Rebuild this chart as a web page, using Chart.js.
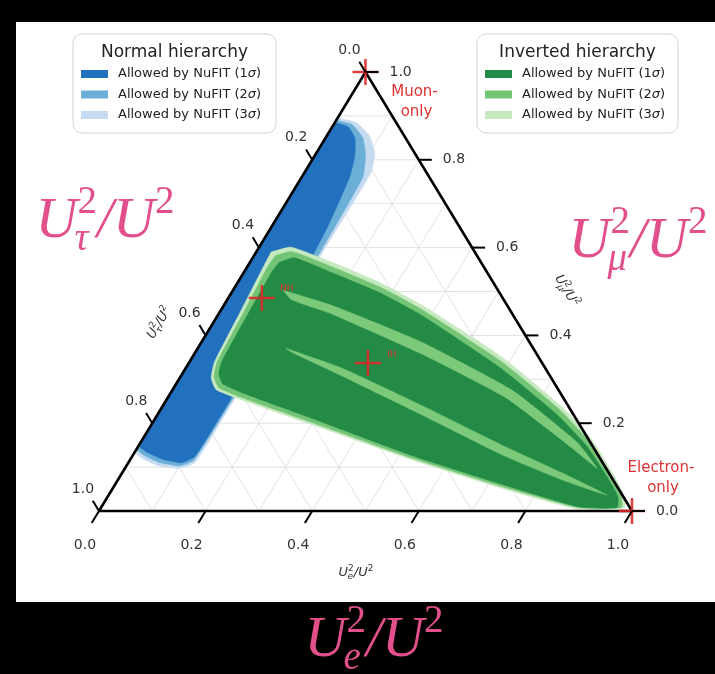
<!DOCTYPE html>
<html>
<head>
<meta charset="utf-8">
<script src="https://cdn.jsdelivr.net/npm/chart.js@4.4.1/dist/chart.umd.min.js"></script>
<style>
  html, body { margin: 0; padding: 0; background: #000; }
</style>
</head>
<body>
<canvas id="ternChart" width="715" height="674"></canvas>
<script>
// all points are [U_e^2/U^2, U_mu^2/U^2]; U_tau^2/U^2 = 1 - e - mu
const nhSigma3 = [[0,0.895],[0.04,0.885],[0.08,0.855],[0.11,0.815],[0.125,0.77],[0.125,0.6],[0.127,0.4],[0.127,0.2],[0.125,0.11],[0.1,0.097],[0.06,0.103],[0.025,0.118],[0,0.135]];
const nhSigma2 = [[0,0.89],[0.035,0.88],[0.07,0.85],[0.095,0.81],[0.115,0.76],[0.12,0.6],[0.123,0.4],[0.123,0.2],[0.12,0.115],[0.1,0.103],[0.06,0.11],[0.025,0.125],[0,0.142]];
const nhSigma1 = [[0,0.885],[0.03,0.875],[0.055,0.85],[0.075,0.81],[0.09,0.76],[0.105,0.65],[0.118,0.45],[0.12,0.25],[0.118,0.125],[0.1,0.11],[0.06,0.118],[0.025,0.133],[0,0.15]];

const ihSigma3 = [[0.028,0.590],[0.060,0.601],[0.153,0.567],[0.270,0.519],[0.371,0.469],[0.580,0.351],[0.750,0.237],[0.844,0.162],[0.925,0.082],[0.967,0.036],[0.982,0.007],[0.894,0.005],[0.729,0.052],[0.530,0.116],[0.323,0.189],[0.141,0.253],[0.082,0.276],[0.059,0.303],[0.047,0.339],[0.038,0.458],[0.030,0.560]];
const ihSigma2 = [[0.040,0.582],[0.066,0.591],[0.157,0.557],[0.275,0.509],[0.376,0.459],[0.582,0.342],[0.750,0.230],[0.842,0.157],[0.922,0.078],[0.962,0.035],[0.976,0.008],[0.895,0.008],[0.727,0.056],[0.528,0.120],[0.320,0.194],[0.140,0.258],[0.084,0.281],[0.063,0.306],[0.052,0.339],[0.045,0.455],[0.038,0.556]];
const ihSigma1 = [[0.055,0.566],[0.078,0.577],[0.165,0.543],[0.283,0.495],[0.384,0.445],[0.585,0.329],[0.749,0.220],[0.840,0.149],[0.918,0.074],[0.957,0.033],[0.968,0.008],[0.897,0.009],[0.725,0.061],[0.525,0.126],[0.316,0.203],[0.140,0.267],[0.087,0.290],[0.069,0.312],[0.060,0.342],[0.055,0.450],[0.052,0.545]];
// 2 sigma islands inside the 1 sigma region
const ihInnerUpper = [[0.094,0.503],[0.201,0.469],[0.412,0.385],[0.636,0.276],[0.818,0.157],[0.885,0.098],[0.815,0.144],[0.636,0.257],[0.426,0.358],[0.212,0.449],[0.121,0.481]];
const ihInnerLower = [[0.165,0.371],[0.292,0.326],[0.484,0.241],[0.681,0.150],[0.825,0.087],[0.935,0.036],[0.833,0.071],[0.692,0.128],[0.496,0.219],[0.301,0.308],[0.180,0.362]];

const markerNames = ["Muon-only", "Electron-only", "NH", "IH"];
const markerPoints = [[0,1],[1,0],[0.063,0.485],[0.336,0.337]];

const tickValues = [0.0, 0.2, 0.4, 0.6, 0.8, 1.0];
const gridValues = [0.1, 0.2, 0.3, 0.4, 0.5, 0.6, 0.7, 0.8, 0.9];

const nhLegendTitle = "Normal hierarchy";
const ihLegendTitle = "Inverted hierarchy";
const legendLevels = ["1", "2", "3"];
const blueShades = ["#2171bf", "#6baed6", "#c6dbef"];
const greenShades = ["#238b45", "#74c476", "#c7e9c0"];

function toXY(p) {
  return { x: p[0] + p[1] / 2, y: p[1] };
}
function polygon(points, color, order) {
  const data = points.map(toXY);
  data.push(toXY(points[0]));
  return {
    data: data, showLine: true, fill: 'shape', backgroundColor: color,
    borderColor: color, borderWidth: 0.5, pointRadius: 0, tension: 0.15, order: order
  };
}
function segment(a, b) {
  return {
    data: [toXY(a), toXY(b)], showLine: true, fill: false,
    borderColor: '#dadada', borderWidth: 0.8, pointRadius: 0, order: 100
  };
}

const datasets = [];
gridValues.forEach(function (g) {
  datasets.push(segment([0, g], [1 - g, g]));
  datasets.push(segment([g, 0], [g, 1 - g]));
  datasets.push(segment([1 - g, 0], [0, 1 - g]));
});
datasets.push(polygon(nhSigma3, blueShades[2], 90));
datasets.push(polygon(nhSigma2, blueShades[1], 89));
datasets.push(polygon(nhSigma1, blueShades[0], 88));
datasets.push(polygon(ihSigma3, greenShades[2], 80));
datasets.push(polygon(ihSigma2, greenShades[1], 79));
datasets.push(polygon(ihSigma1, greenShades[0], 78));
datasets.push(polygon(ihInnerUpper, '#7dc97a', 77));
datasets.push(polygon(ihInnerLower, '#7dc97a', 77));
datasets.push({
  data: [[0,0],[1,0],[0,1],[0,0]].map(toXY), showLine: true, fill: false,
  borderColor: '#000', borderWidth: 2.6, pointRadius: 0, order: 10
});
datasets.push({
  data: markerPoints.map(toXY), showLine: false, pointStyle: 'cross',
  pointRadius: 13, pointBorderWidth: 2.5, pointBorderColor: 'rgba(222,40,40,0.9)', order: 1
});

// pixel placement of the triangle in the page
const LEFT_PX = 99, SIDE_PX = 533, BASE_PX = 511, HEIGHT_PX = 439;

function drawUFrac(ctx, cx, by, sub, size, family, italic) {
  const it = italic ? 'italic ' : '';
  const sm = Math.round(size * 0.68);
  const big = it + size + 'px ' + family;
  const small = sm + 'px ' + family;
  const smallIt = it + sm + 'px ' + family;
  ctx.font = big;
  const wU = ctx.measureText('U').width;
  const wSl = ctx.measureText('/U').width;
  ctx.font = small;
  const w2 = ctx.measureText('2').width;
  ctx.font = smallIt;
  const wSub = ctx.measureText(sub).width;
  const mid = Math.max(w2, wSub);
  let x = cx - (wU + mid + wSl + w2) / 2;
  ctx.textAlign = 'left';
  ctx.textBaseline = 'alphabetic';
  ctx.font = big; ctx.fillText('U', x, by); x += wU;
  ctx.font = small; ctx.fillText('2', x, by - size * 0.42);
  ctx.font = smallIt; ctx.fillText(sub, x - size * 0.05, by + size * 0.22);
  x += mid;
  ctx.font = big; ctx.fillText('/U', x, by); x += wSl;
  ctx.font = small; ctx.fillText('2', x, by - size * 0.42);
}

function drawLegend(ctx, x0, y0, w, h, title, shades) {
  ctx.save();
  ctx.fillStyle = '#fff';
  ctx.strokeStyle = '#d4d4d4';
  ctx.lineWidth = 1;
  ctx.beginPath();
  ctx.roundRect(x0, y0, w, h, 9);
  ctx.fill(); ctx.stroke();
  ctx.fillStyle = '#222';
  ctx.font = '17px "DejaVu Sans"';
  ctx.textAlign = 'center';
  ctx.textBaseline = 'middle';
  ctx.fillText(title, x0 + w / 2, y0 + 19);
  legendLevels.forEach(function (lv, i) {
    const yy = y0 + 40 + i * 20.5;
    ctx.fillStyle = shades[i];
    ctx.fillRect(x0 + 8, yy - 4, 27, 8);
    ctx.fillStyle = '#222';
    ctx.textAlign = 'left';
    let tx = x0 + 45;
    ctx.font = '13px "DejaVu Sans"';
    const s1 = 'Allowed by NuFIT (' + lv;
    ctx.fillText(s1, tx, yy);
    tx += ctx.measureText(s1).width;
    ctx.font = 'italic 13px "DejaVu Sans"';
    ctx.fillText('σ', tx, yy);
    tx += ctx.measureText('σ').width;
    ctx.font = '13px "DejaVu Sans"';
    ctx.fillText(')', tx, yy);
  });
  ctx.restore();
}

const decor = {
  id: 'decor',
  beforeDraw(chart) {
    const ctx = chart.ctx;
    ctx.save();
    ctx.fillStyle = '#000';
    ctx.fillRect(0, 0, chart.width, chart.height);
    ctx.fillStyle = '#fff';
    ctx.fillRect(16, 22, chart.width - 16, 580);
    ctx.restore();
  },
  afterDatasetsDraw(chart) {
    const ctx = chart.ctx;
    const xs = chart.scales.x, ys = chart.scales.y;
    const pt = function (e, m) {
      return [xs.getPixelForValue(e + m / 2), ys.getPixelForValue(m)];
    };
    ctx.save();
    ctx.strokeStyle = '#000';
    ctx.lineWidth = 2;
    ctx.fillStyle = '#333';
    ctx.font = '14px "DejaVu Sans"';
    ctx.textBaseline = 'middle';
    tickValues.forEach(function (v) {
      const lab = v.toFixed(1);
      // bottom: U_e
      let p = pt(v, 0);
      ctx.beginPath(); ctx.moveTo(p[0], p[1]); ctx.lineTo(p[0] - 7.3, p[1] + 12); ctx.stroke();
      ctx.textAlign = 'center';
      ctx.fillText(lab, p[0] - 14, p[1] + 34);
      // left: U_tau
      p = pt(0, 1 - v);
      ctx.beginPath(); ctx.moveTo(p[0], p[1]); ctx.lineTo(p[0] - 6.2, p[1] - 10.3); ctx.stroke();
      ctx.fillText(lab, p[0] - 16, p[1] - 22);
      // right: U_mu
      p = pt(1 - v, v);
      ctx.beginPath(); ctx.moveTo(p[0], p[1]); ctx.lineTo(p[0] + 13, p[1]); ctx.stroke();
      ctx.textAlign = 'left';
      ctx.fillText(lab, p[0] + 24, p[1]);
    });

    // small axis titles
    ctx.fillStyle = '#333';
    drawUFrac(ctx, 356, 576, 'e', 13, '"DejaVu Sans"', true);
    ctx.save();
    ctx.translate(158, 322);
    ctx.rotate(-58.7 * Math.PI / 180);
    drawUFrac(ctx, 0, 5, 'τ', 13, '"DejaVu Sans"', true);
    ctx.restore();
    ctx.save();
    ctx.translate(568, 290);
    ctx.rotate(58.7 * Math.PI / 180);
    drawUFrac(ctx, 0, 5, 'μ', 13, '"DejaVu Sans"', true);
    ctx.restore();

    // red marker labels
    ctx.fillStyle = 'rgb(222,50,50)';
    ctx.textAlign = 'center';
    ctx.textBaseline = 'middle';
    ctx.font = '15px "DejaVu Sans"';
    let m = pt(markerPoints[0][0], markerPoints[0][1]);
    ctx.fillText('Muon-', m[0] + 49, m[1] + 20);
    ctx.fillText('only', m[0] + 51, m[1] + 40);
    m = pt(markerPoints[1][0], markerPoints[1][1]);
    ctx.fillText('Electron-', m[0] + 29, m[1] - 43);
    ctx.fillText('only', m[0] + 31, m[1] - 23);
    ctx.font = '9px "DejaVu Sans"';
    m = pt(markerPoints[2][0], markerPoints[2][1]);
    ctx.fillText(markerNames[2], m[0] + 25, m[1] - 9);
    m = pt(markerPoints[3][0], markerPoints[3][1]);
    ctx.fillText(markerNames[3], m[0] + 24, m[1] - 8);

    // legends
    drawLegend(ctx, 73, 34, 203, 99, nhLegendTitle, blueShades);
    drawLegend(ctx, 477, 34, 201, 99, ihLegendTitle, greenShades);

    // big pink labels
    ctx.fillStyle = '#e2508c';
    drawUFrac(ctx, 105, 237, 'τ', 58, '"Liberation Serif"', true);
    drawUFrac(ctx, 638, 257, 'μ', 58, '"Liberation Serif"', true);
    drawUFrac(ctx, 374, 656, 'e', 58, '"Liberation Serif"', true);
    ctx.restore();
  }
};

new Chart(document.getElementById('ternChart'), {
  type: 'scatter',
  data: { datasets: datasets },
  options: {
    responsive: false,
    animation: false,
    events: [],
    layout: { padding: 0, autoPadding: false },
    scales: {
      x: { display: false, min: -LEFT_PX / SIDE_PX, max: (715 - LEFT_PX) / SIDE_PX },
      y: { display: false, min: (BASE_PX - 674) / HEIGHT_PX, max: BASE_PX / HEIGHT_PX }
    },
    plugins: { legend: { display: false }, tooltip: { enabled: false } }
  },
  plugins: [decor]
});
</script>
</body>
</html>
